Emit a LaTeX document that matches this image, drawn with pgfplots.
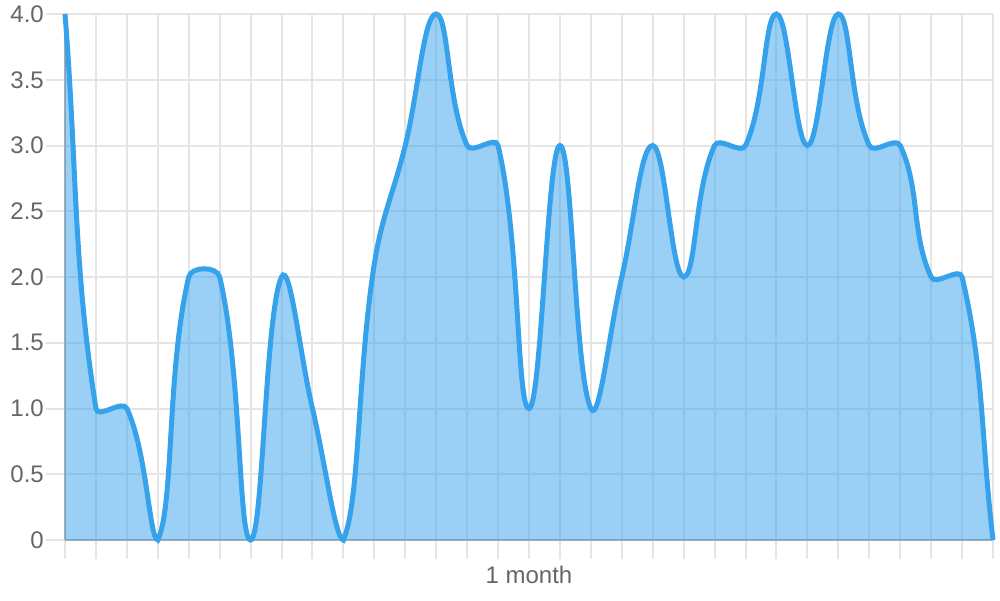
\documentclass[border=0pt]{standalone}
\usepackage{pgfplots}
\pgfplotsset{compat=1.18}
\usepackage{pgfplotstable}
\usepackage{fontspec}
\setmainfont{Liberation Sans}

\definecolor{cjblue}{RGB}{54,162,235}
\definecolor{gridgray}{RGB}{229,229,229}
\definecolor{axisgray}{RGB}{172,172,172}
\definecolor{labelgray}{RGB}{102,102,102}

% plot handler: cubic spline with tension 0.4, control points weighted by
% segment length and capped to the plot area (the way the browser chart does it)
\makeatletter
\def\cj@tension{0.4}
\def\pgfplothandlerchartjs{%
  \def\pgf@plotstreamstart{%
    \global\let\pgf@plotstreampoint=\cj@point
    \global\let\pgf@plotstreamspecial=\pgfutil@gobble
    \global\let\pgf@plotstreamend=\cj@finish
    \gdef\cj@n{0}%
    \pgfplotspointaxisxy{0}{0}\xdef\cj@ylo{\pgf@sys@tonumber\pgf@y}%
    \pgfplotspointaxisxy{0}{4}\xdef\cj@yhi{\pgf@sys@tonumber\pgf@y}%
  }%
}
\def\cj@compute{%
  \pgfmathsetmacro\cj@dA{veclen((\cj@cx)-(\cj@px),(\cj@cy)-(\cj@py))}%
  \pgfmathsetmacro\cj@dB{veclen((\cj@nx)-(\cj@cx),(\cj@ny)-(\cj@cy))}%
  \pgfmathsetmacro\cj@sum{\cj@dA+\cj@dB}%
  \ifdim\cj@sum pt<0.001pt
    \def\cj@fa{0}\def\cj@fb{0}%
  \else
    \pgfmathsetmacro\cj@fa{\cj@tension*\cj@dA/\cj@sum}%
    \pgfmathsetmacro\cj@fb{\cj@tension*\cj@dB/\cj@sum}%
  \fi
  \pgfmathsetmacro\cj@dx{(\cj@nx)-(\cj@px)}%
  \pgfmathsetmacro\cj@dy{(\cj@ny)-(\cj@py)}%
  \pgfmathsetmacro\cj@ix{(\cj@cx)-(\cj@fa)*(\cj@dx)}%
  \pgfmathsetmacro\cj@iy{(\cj@cy)-(\cj@fa)*(\cj@dy)}%
  \pgfmathsetmacro\cj@ox{(\cj@cx)+(\cj@fb)*(\cj@dx)}%
  \pgfmathsetmacro\cj@oy{(\cj@cy)+(\cj@fb)*(\cj@dy)}%
  \pgfmathsetmacro\cj@iy{min(max(\cj@iy,\cj@ylo),\cj@yhi)}%
  \pgfmathsetmacro\cj@oy{min(max(\cj@oy,\cj@ylo),\cj@yhi)}%
}
\def\cj@emit{%
  \pgfpathcurveto{\pgfpoint{\cj@sx pt}{\cj@sy pt}}%
    {\pgfpoint{\cj@ix pt}{\cj@iy pt}}{\pgfpoint{\cj@cx pt}{\cj@cy pt}}%
}
\def\cj@point#1{%
  \pgf@process{#1}%
  \xdef\cj@nx{\pgf@sys@tonumber\pgf@x}%
  \xdef\cj@ny{\pgf@sys@tonumber\pgf@y}%
  \ifnum\cj@n=0
    \pgf@plot@first@action{\pgfqpoint{\pgf@x}{\pgf@y}}%
    \global\let\cj@px=\cj@nx \global\let\cj@py=\cj@ny
    \global\let\cj@cx=\cj@nx \global\let\cj@cy=\cj@ny
    \gdef\cj@n{1}%
  \else
    \cj@compute
    \ifnum\cj@n>1 \cj@emit\fi
    \global\let\cj@sx=\cj@ox \global\let\cj@sy=\cj@oy
    \global\let\cj@px=\cj@cx \global\let\cj@py=\cj@cy
    \global\let\cj@cx=\cj@nx \global\let\cj@cy=\cj@ny
    \gdef\cj@n{2}%
  \fi
}
\def\cj@finish{%
  \ifnum\cj@n>1
    \global\let\cj@nx=\cj@cx \global\let\cj@ny=\cj@cy
    \cj@compute
    \cj@emit
  \fi
}
\tikzset{chartjs/.code={\let\tikz@plot@handler=\pgfplothandlerchartjs}}
\makeatother

\pgfplotstableread{
day value
0  4
1  1
2  1
3  0
4  2
5  2
6  0
7  2
8  1
9  0
10 2.1
11 3
12 4
13 3
14 3
15 1
16 3
17 1
18 2
19 3
20 2
21 3
22 3
23 4
24 3
25 4
26 3
27 3
28 2
29 2
30 0
}\monthdata

\begin{document}
\begin{tikzpicture}
\path[use as bounding box] (0,0) rectangle (1000pt,600pt);
\begin{axis}[
    at={(65pt,60pt)}, anchor=south west,
    scale only axis, width=928pt, height=526pt,
    xmin=0, xmax=30, ymin=0, ymax=4,
    clip=false,
    axis lines*=left,
    axis line style={axisgray, line width=2pt},
    xtick={0,...,30}, xticklabels={,,},
    ytick={0,0.5,1,1.5,2,2.5,3,3.5,4},
    yticklabels={0,0.5,1.0,1.5,2.0,2.5,3.0,3.5,4.0},
    grid=major,
    grid style={gridgray, line width=2pt},
    tick align=outside,
    major tick length=19pt,
    tick style={gridgray, line width=2pt},
    ticklabel style={font=\fontsize{24}{28}\selectfont, text=labelgray},
    yticklabel style={anchor=east, inner sep=0pt, xshift=-2pt},
    xlabel={1 month},
    xlabel style={font=\fontsize{24}{28}\selectfont, text=labelgray,
        at={(axis description cs:0.5,0)}, anchor=base, yshift=-43pt},
]
\addplot[draw=none, fill=cjblue, fill opacity=0.5, chartjs, forget plot]
    table[x=day, y=value] {\monthdata} \closedcycle;
\addplot[cjblue, line width=5pt, chartjs]
    table[x=day, y=value] {\monthdata};
\end{axis}
\end{tikzpicture}
\end{document}
